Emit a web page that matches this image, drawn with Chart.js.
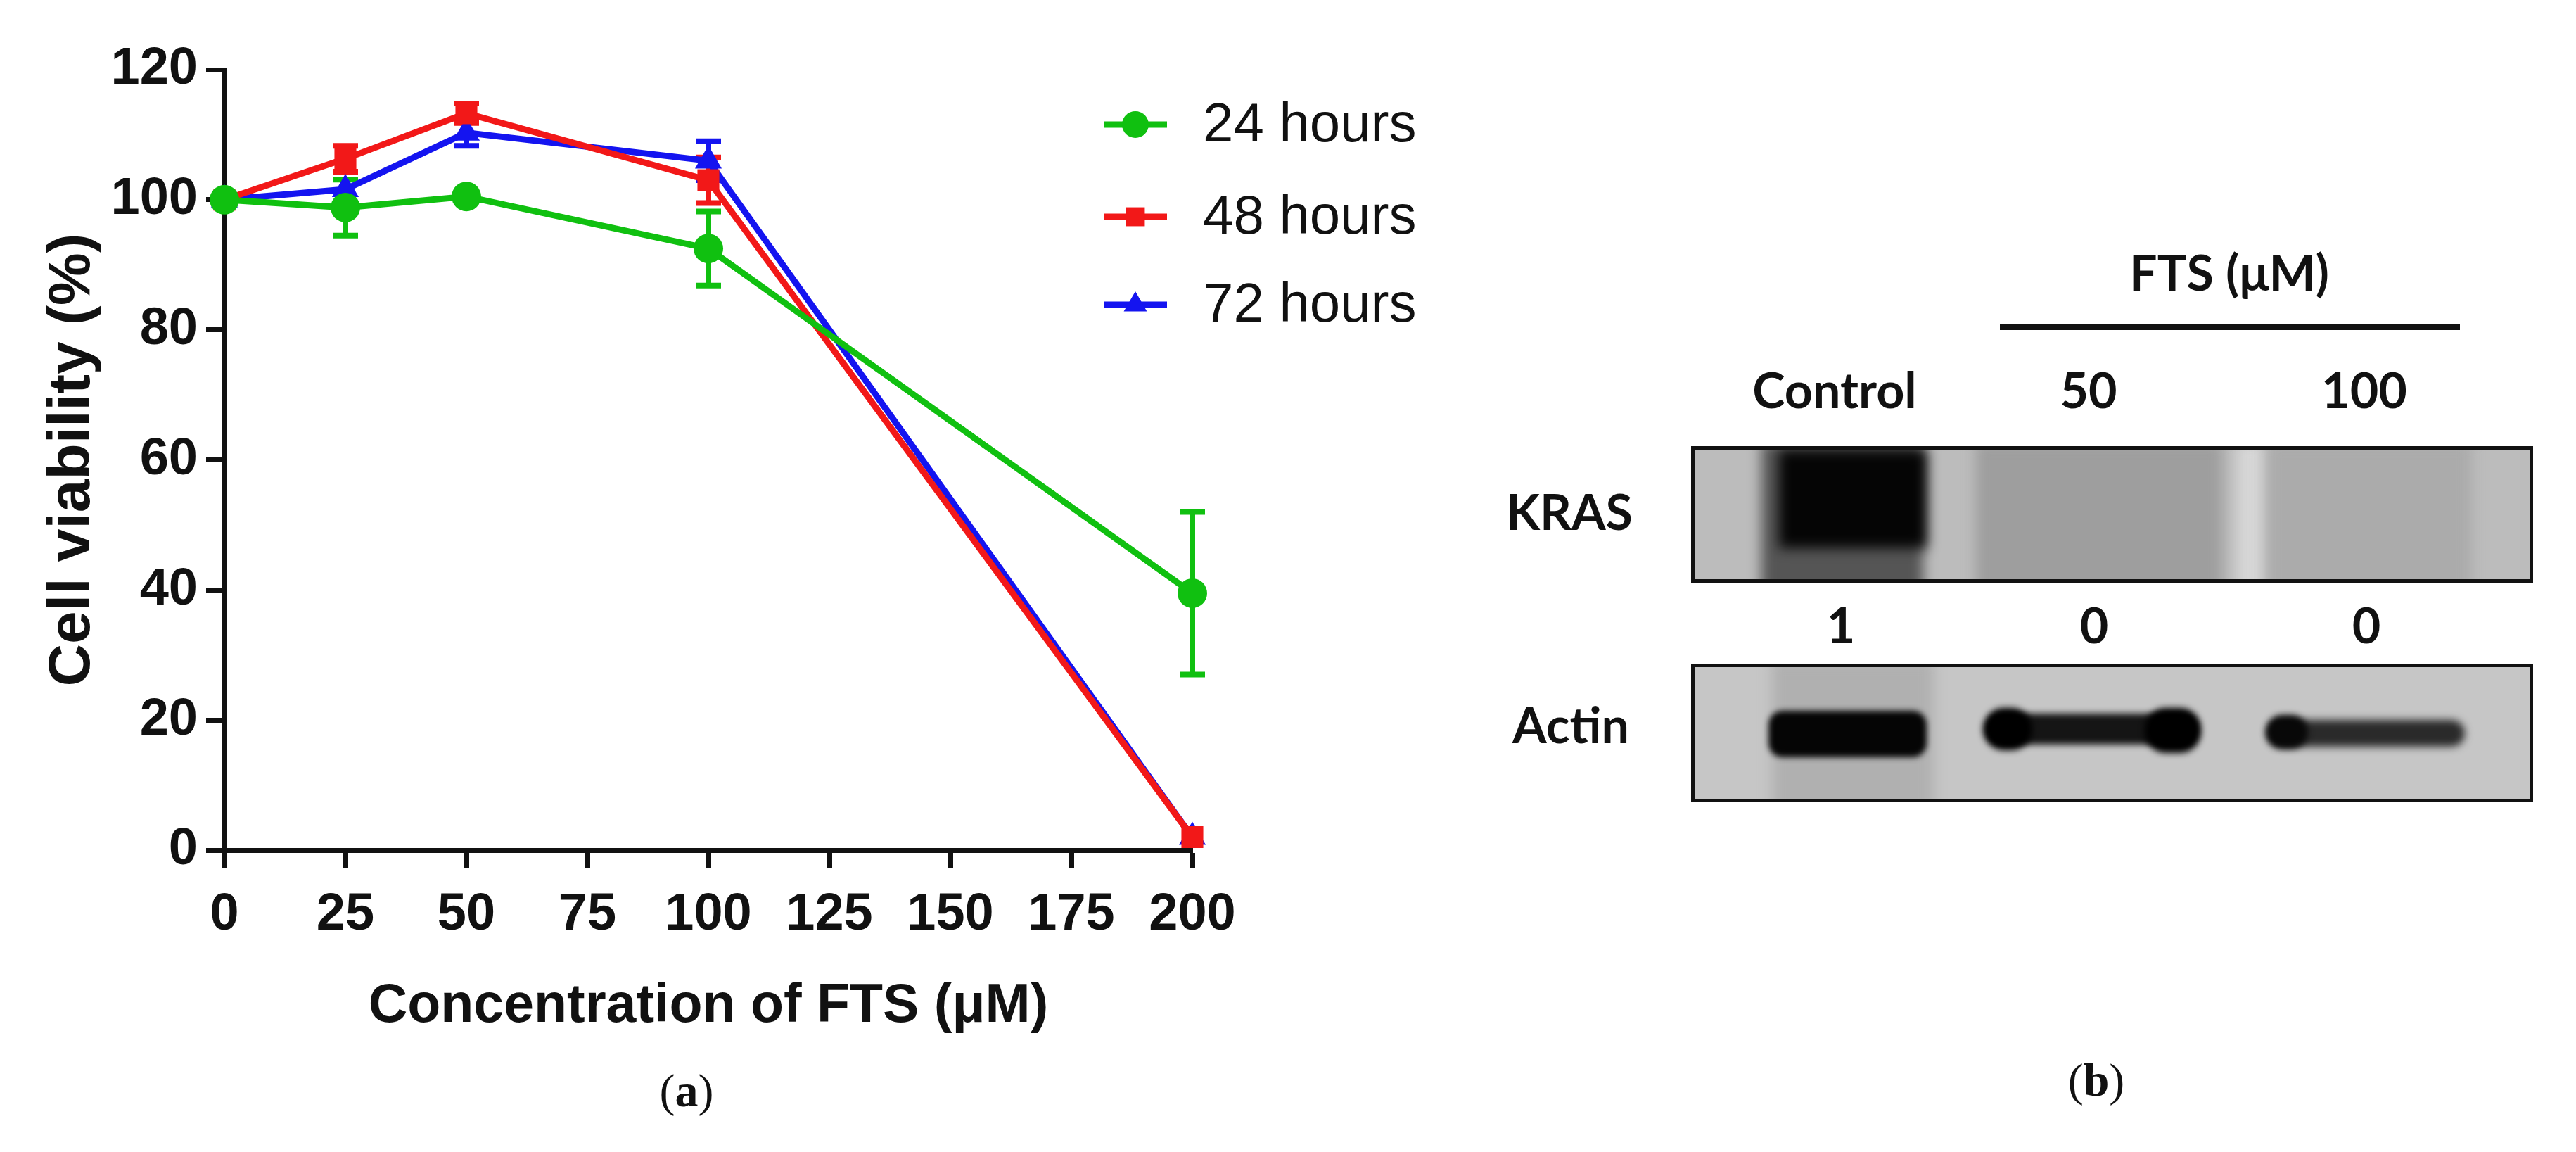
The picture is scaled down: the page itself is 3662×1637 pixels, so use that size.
<!DOCTYPE html>
<html><head><meta charset="utf-8">
<script src="https://cdn.jsdelivr.net/npm/chart.js@4.4.1/dist/chart.umd.min.js"></script>
<style>
html,body{margin:0;padding:0;background:#fff;width:3662px;height:1637px;overflow:hidden;position:relative}
#wrap{position:absolute;left:0;top:0;width:2050px;height:1637px}
.t{position:absolute;white-space:nowrap;transform:translate(-50%,-50%);color:#111}
.lbl{font-family:Lato,'Open Sans',sans-serif;font-weight:700;font-size:70px}
.cap{font-family:'Liberation Serif',serif;font-size:66px}
.box{position:absolute;border:5px solid #111;box-sizing:border-box;overflow:hidden}
.b{position:absolute;filter:blur(9px)}
</style></head><body>
<div id="wrap"><canvas id="c" width="2050" height="1637"></canvas></div>
<div class="t cap" style="left:976px;top:1550px">(<b>a</b>)</div>
<div class="t cap" style="left:2980px;top:1535px">(<b>b</b>)</div>

<div class="t lbl" style="left:3169px;top:386px">FTS (μM)</div>
<div style="position:absolute;left:2843px;top:461px;width:654px;height:8px;background:#111"></div>
<div class="t lbl" style="left:2608px;top:553px">Control</div>
<div class="t lbl" style="left:2969px;top:553px">50</div>
<div class="t lbl" style="left:3361px;top:553px">100</div>
<div class="t lbl" style="left:2231px;top:726px">KRAS</div>
<div class="t lbl" style="left:2233px;top:1029px">Actin</div>
<div class="t lbl" style="left:2617px;top:887px">1</div>
<div class="t lbl" style="left:2977px;top:887px">0</div>
<div class="t lbl" style="left:3364px;top:887px">0</div>

<div class="box" style="left:2404px;top:634px;width:1197px;height:194px;background:#bcbcbc">
  <div class="b" style="left:95px;top:-10px;width:230px;height:220px;background:#555"></div>
  <div class="b" style="left:120px;top:0px;width:210px;height:140px;background:#050505"></div>
  <div class="b" style="left:400px;top:-10px;width:350px;height:220px;background:#9e9e9e"></div>
  <div class="b" style="left:770px;top:-10px;width:40px;height:220px;background:#d6d6d6"></div>
  <div class="b" style="left:815px;top:-10px;width:290px;height:220px;background:#ababab"></div>
</div>
<div class="box" style="left:2404px;top:943px;width:1197px;height:197px;background:#c6c6c6">
  <div class="b" style="left:110px;top:-10px;width:230px;height:220px;background:#b0b0b0"></div>
  <div class="b" style="left:105px;top:62px;width:225px;height:66px;background:#050505;border-radius:20px;filter:blur(4px)"></div>
  <div class="b" style="left:415px;top:66px;width:300px;height:44px;background:#151515;border-radius:22px;filter:blur(5px)"></div>
  <div class="b" style="left:410px;top:58px;width:70px;height:60px;background:#000;border-radius:30px;filter:blur(5px)"></div>
  <div class="b" style="left:640px;top:58px;width:80px;height:64px;background:#000;border-radius:30px;filter:blur(5px)"></div>
  <div class="b" style="left:815px;top:75px;width:280px;height:38px;background:#2a2a2a;border-radius:20px;filter:blur(6px)"></div>
  <div class="b" style="left:812px;top:68px;width:60px;height:48px;background:#080808;border-radius:25px;filter:blur(5px)"></div>
</div>

<script>
const concentrations = [0, 25, 50, 100, 200];
const seriesLabels = ['24 hours', '48 hours', '72 hours'];
const viability24 = [100, 98.8, 100.5, 92.5, 39.5];
const error24 = [0.8, 4.3, 1, 5.7, 12.5];
const viability48 = [100, 106.3, 113.3, 103, 2];
const error48 = [1.2, 2, 1.5, 3.5, 1];
const viability72 = [100, 101.6, 110.3, 106, 2];
const error72 = [0.5, 1, 2, 3, 1];
const xTicks = [0, 25, 50, 75, 100, 125, 150, 175, 200];
const yTicks = [0, 20, 40, 60, 80, 100, 120];

const GREEN = '#10c010', RED = '#f21818', BLUE = '#1414f0';
const toPts = v => concentrations.map((x, i) => ({x, y: v[i]}));
const datasets = [
  {label: seriesLabels[0], data: toPts(viability24), err: error24, borderColor: GREEN, backgroundColor: GREEN, pointStyle: 'circle', pointRadius: 21},
  {label: seriesLabels[1], data: toPts(viability48), err: error48, borderColor: RED, backgroundColor: RED, pointStyle: 'rect', pointRadius: 22},
  {label: seriesLabels[2], data: toPts(viability72), err: error72, borderColor: BLUE, backgroundColor: BLUE, pointStyle: 'triangle', pointRadius: 22},
].map(d => Object.assign(d, {borderWidth: 9, pointBorderWidth: 0, pointHoverRadius: d.pointRadius, clip: false, tension: 0}));

const errorBars = {
  id: 'errorBars',
  beforeDatasetsDraw(chart) {
    const ctx = chart.ctx, xs = chart.scales.x, ys = chart.scales.y;
    chart.data.datasets.slice().reverse().forEach(ds => {
      ctx.save(); ctx.strokeStyle = ds.borderColor; ctx.lineWidth = 8;
      ds.data.forEach((p, i) => {
        const e = ds.err[i]; if (e < 1.5) return;
        const x = xs.getPixelForValue(p.x), y1 = ys.getPixelForValue(p.y + e), y2 = ys.getPixelForValue(p.y - e);
        ctx.beginPath(); ctx.moveTo(x, y1); ctx.lineTo(x, y2);
        ctx.moveTo(x - 18, y1); ctx.lineTo(x + 18, y1);
        ctx.moveTo(x - 18, y2); ctx.lineTo(x + 18, y2); ctx.stroke();
      });
      ctx.restore();
    });
  }
};
const legendPlugin = {
  id: 'customLegend',
  afterDraw(chart) {
    const ctx = chart.ctx; const rows = [177, 308, 433];
    [0, 1, 2].forEach(i => {
      const ds = chart.data.datasets[i], y = rows[i];
      ctx.save();
      ctx.strokeStyle = ds.borderColor; ctx.fillStyle = ds.borderColor; ctx.lineWidth = 9;
      ctx.beginPath(); ctx.moveTo(1569, y); ctx.lineTo(1659, y); ctx.stroke();
      Chart.helpers.drawPoint(ctx, {pointStyle: ds.pointStyle, radius: 19, borderWidth: 0}, 1614, y);
      ctx.fillStyle = '#111'; ctx.font = "78px 'Liberation Sans Narrow', 'Liberation Sans'";
      ctx.textBaseline = 'middle'; ctx.fillText(ds.label, 1710, y + 2);
      ctx.restore();
    });
  }
};

const tickFont = {family: "'Liberation Sans Narrow', 'Liberation Sans', sans-serif", weight: 'bold', size: 74};
new Chart(document.getElementById('c'), {
  type: 'line',
  data: {datasets},
  plugins: [errorBars, legendPlugin],
  options: {
    responsive: false, animation: false, devicePixelRatio: 1,
    layout: {padding: {top: 99, right: 355, left: 0, bottom: 0}},
    plugins: {legend: {display: false}, tooltip: {enabled: false}},
    scales: {
      x: {
        type: 'linear', min: 0, max: 200,
        afterBuildTicks: s => { s.ticks = xTicks.map(v => ({value: v})); },
        afterFit: s => { s.height = 1637 - 1208; },
        border: {color: '#111', width: 7},
        grid: {drawOnChartArea: false, drawTicks: true, tickLength: 26, tickWidth: 7, tickColor: '#111'},
        ticks: {color: '#111', font: tickFont, padding: 22, maxRotation: 0},
        title: {display: true, text: 'Concentration of FTS (μM)', color: '#111', padding: {top: 160, bottom: 160},
          font: {family: "'Liberation Sans', sans-serif", weight: 'bold', size: 77}}
      },
      y: {
        min: 0, max: 120,
        afterBuildTicks: s => { s.ticks = yTicks.map(v => ({value: v})); },
        afterFit: s => { s.width = 319; },
        border: {color: '#111', width: 7},
        grid: {drawOnChartArea: false, drawTicks: true, tickLength: 26, tickWidth: 7, tickColor: '#111'},
        ticks: {color: '#111', font: tickFont, padding: 12},
        title: {display: true, text: 'Cell viability (%)', color: '#111', padding: {top: 53, bottom: 53},
          font: {family: "'Liberation Sans', sans-serif", weight: 'bold', size: 84}}
      }
    }
  }
});
</script>
</body></html>
